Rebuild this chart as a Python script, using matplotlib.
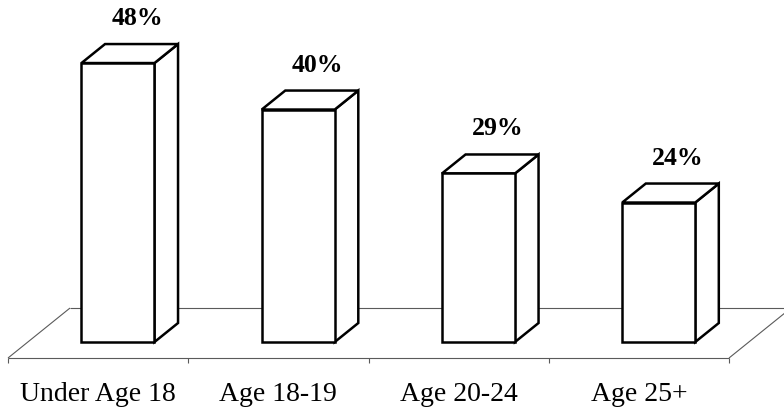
import matplotlib
matplotlib.use("Agg")
import matplotlib.pyplot as plt
from matplotlib.patches import Polygon

# Share of each age group
categories = ["Under Age 18", "Age 18-19", "Age 20-24", "Age 25+"]
values = [48, 40, 29, 24]
value_labels = ["48%", "40%", "29%", "24%"]

# Oblique projection: one unit of depth moves a point this far in data units
DEPTH_X = 0.344
DEPTH_Y = 8.6
BAR_Z0, BAR_Z1 = 0.32, 0.70   # front / back depth of the bars on the floor
BAR_W = 0.405


def proj(x, h, z):
    return (x + DEPTH_X * z, h + DEPTH_Y * z)


fig = plt.figure(figsize=(7.84, 4.07), dpi=100)
ax = fig.add_axes([0, 0, 1, 1])
ax.set_xlim(-0.0444, 4.305)
ax.set_ylim(-8.43, 61.6)
ax.axis("off")

n = len(categories)
floor_kw = dict(color="#5a5a5a", lw=0.8, zorder=1, solid_capstyle="butt")

# Floor plane
ax.plot(*zip(proj(0, 0, 0), proj(n, 0, 0)), **floor_kw)
ax.plot(*zip(proj(0, 0, 1), proj(n + 1, 0, 1)), **floor_kw)
ax.plot(*zip(proj(0, 0, 0), proj(0, 0, 1)), **floor_kw)
ax.plot(*zip(proj(n, 0, 0), proj(n, 0, 1)), **floor_kw)

# Category ticks below the front edge
for i in range(n + 1):
    ax.plot([i, i], [0, -0.86], **floor_kw)

edge_kw = dict(facecolor="white", edgecolor="black", lw=1.8, joinstyle="miter", zorder=3)

for i, (v, lab) in enumerate(zip(values, value_labels)):
    x0 = i + 0.5 - BAR_W / 2
    x1 = i + 0.5 + BAR_W / 2
    front = [proj(x0, 0, BAR_Z0), proj(x1, 0, BAR_Z0), proj(x1, v, BAR_Z0), proj(x0, v, BAR_Z0)]
    side = [proj(x1, 0, BAR_Z0), proj(x1, 0, BAR_Z1), proj(x1, v, BAR_Z1), proj(x1, v, BAR_Z0)]
    top = [proj(x0, v, BAR_Z0), proj(x1, v, BAR_Z0), proj(x1, v, BAR_Z1), proj(x0, v, BAR_Z1)]
    for face in (side, top, front):
        ax.add_patch(Polygon(face, closed=True, **edge_kw))

    lx, ly = proj(i + 0.5, v, 0.63)
    _, by = proj(x1, v, BAR_Z1)
    ax.annotate(lab, xy=(lx, by), xytext=(0, 13.7), textcoords="offset points",
                ha="center", va="baseline", fontsize=18.5, fontweight="bold",
                family="Liberation Serif", zorder=4)

for i, c in enumerate(categories):
    ax.annotate(c, xy=(i + 0.5, 0), xytext=(0, -30.8), textcoords="offset points",
                ha="center", va="baseline", fontsize=20, family="Liberation Serif")

fig.savefig("out.png", dpi=100, facecolor="white")
